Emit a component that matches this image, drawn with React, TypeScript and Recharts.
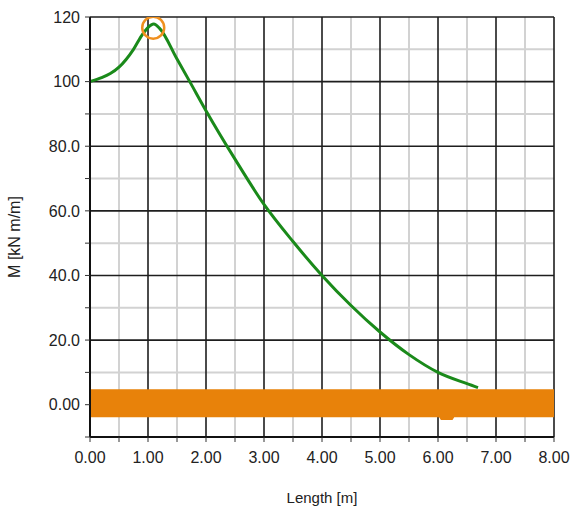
import React from 'react';
import{ComposedChart,Line,Area,XAxis,YAxis,CartesianGrid,ReferenceDot}from'recharts';

// moment curve
const curveX=[0,0.2,0.35,0.5,0.75,0.9,1.05,1.1,1.2,1.5,1.72,2.0,2.5,3.0,3.5,4.0,4.5,5.0,5.5,6.0,6.5,6.69];
const curveM=[100,101.2,102.5,104.5,110,114.5,117.5,117.8,116.5,107,100,91,76,62,50.5,40,30.7,22.5,15.5,10,6.5,5.3];
// orange band around zero
const bandX=[0,6.02,6.05,6.25,6.28,8];
const bandLow=[-3.9,-3.9,-4.7,-4.7,-3.9,-3.9];
const bandHigh=[4.8,4.8,4.8,4.8,4.8,4.8];
// max marker
const peak=[1.09,116.7];
// grid / ticks
const xMajor=[0,1,2,3,4,5,6,7,8];
const xMinor=[0.5,1.5,2.5,3.5,4.5,5.5,6.5,7.5];
const yMajor=[0,20,40,60,80,100,120];
const yMinor=[-10,10,30,50,70,90,110];
const xTicks=[0,0.5,1,1.5,2,2.5,3,3.5,4,4.5,5,5.5,6,6.5,7,7.5,8];
const yTicks=[-10,0,10,20,30,40,50,60,70,80,90,100,110,120];
const yLabels:Record<number,string>={0:'0.00',20:'20.0',40:'40.0',60:'60.0',80:'80.0',100:'100',120:'120'};

const curve=curveX.map((x,i)=>({x,m:curveM[i]}));
const band=bandX.map((x,i)=>({x,r:[bandLow[i],bandHigh[i]]}));

const font='"Liberation Sans", Arial, sans-serif';
const tick={fontSize:16,fill:'#222',fontFamily:font};

const App:React.FC=()=>(
  <div style={{position:'absolute',left:0,top:0,background:'#fff'}}>
    <ComposedChart width={573} height={511} margin={{top:17,right:19,left:0,bottom:0}}>
      <CartesianGrid verticalValues={xMinor} horizontalValues={yMinor} stroke="#d2d2d2" strokeWidth={2}/>
      <CartesianGrid verticalValues={xMajor} horizontalValues={yMajor} stroke="#1e1e1e" strokeWidth={1.6}/>
      <XAxis dataKey="x" type="number" domain={[0,8]} ticks={xTicks} interval={0} allowDataOverflow
        tickFormatter={(v:number)=>Number.isInteger(v)?v.toFixed(2):''}
        tick={tick} tickSize={5} tickMargin={10} height={74}
        axisLine={{stroke:'#111',strokeWidth:2}} tickLine={{stroke:'#333'}}
        label={{value:'Length [m]',position:'insideBottom',offset:8,style:{fontSize:15,fill:'#222',fontFamily:font}}}/>
      <YAxis type="number" domain={[-10,120]} ticks={yTicks} interval={0} allowDataOverflow
        tickFormatter={(v:number)=>yLabels[v]??''}
        tick={tick} tickSize={5} tickMargin={5} width={90}
        axisLine={{stroke:'#111',strokeWidth:2}} tickLine={{stroke:'#333'}}
        label={{content:()=>(<text x={16} y={237} transform="rotate(-90 16 237)" textAnchor="middle" dominantBaseline="middle" style={{fontSize:16,fill:'#222',fontFamily:font}}>M [kN m/m]</text>)}}/>
      <Area data={band} dataKey="r" type="linear" fill="#E8820A" fillOpacity={1} stroke="none" isAnimationActive={false}/>
      <Line data={curve} dataKey="m" type="monotone" stroke="#1a8a1a" strokeWidth={3} dot={false} isAnimationActive={false}/>
      <ReferenceDot x={peak[0]} y={peak[1]} r={11} fill="none" stroke="#F0901E" strokeWidth={2.5} ifOverflow="hidden"/>
    </ComposedChart>
  </div>
);
export default App;
